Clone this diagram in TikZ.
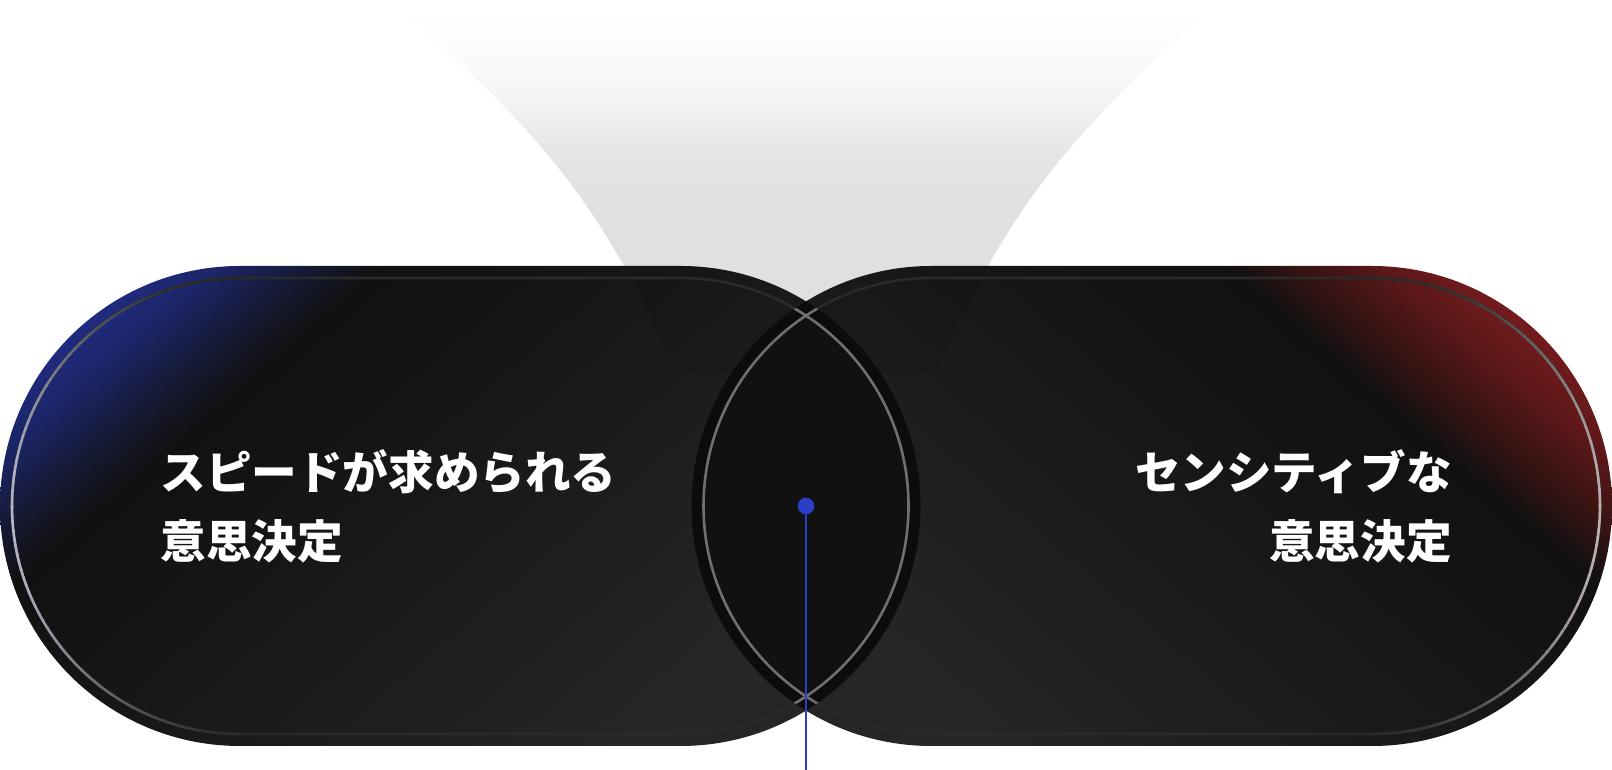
\documentclass[tikz,border=0pt]{standalone}
\usepackage{fontspec}
\newfontfamily\cjk{Noto Sans CJK JP}
\definecolor{bl0}{HTML}{23318F}
\definecolor{bl1}{HTML}{202C82}
\definecolor{bl2}{HTML}{1B2566}
\definecolor{bl3}{HTML}{15182E}
\definecolor{rd0}{HTML}{801E20}
\definecolor{rd1}{HTML}{761C1E}
\definecolor{rd2}{HTML}{5E1819}
\definecolor{rd3}{HTML}{341313}
\definecolor{c11}{HTML}{111111}
\definecolor{c16}{HTML}{161616}
\definecolor{c27}{HTML}{272727}
\definecolor{c22}{HTML}{222222}
\definecolor{fn1}{HTML}{FEFEFE}
\definecolor{fn2}{HTML}{F9F9F9}
\definecolor{fn3}{HTML}{F1F1F1}
\definecolor{fn4}{HTML}{E8E8E8}
\definecolor{fn5}{HTML}{E3E3E3}
\definecolor{fn6}{HTML}{E0E0E0}
\definecolor{fn7}{HTML}{DFDFDF}
\definecolor{dimline}{HTML}{2A2A2A}
\definecolor{hiL}{HTML}{B4B6C6}
\definecolor{hiR}{HTML}{BCB2B2}
\definecolor{lensband}{HTML}{0C0C0C}
\definecolor{lensfill}{HTML}{111111}
\definecolor{lensline}{HTML}{707070}
\definecolor{dotblue}{HTML}{2A3EC8}
\pgfdeclarehorizontalshading{leftgrad}{100bp}{color(0bp)=(bl0); color(30.5bp)=(bl0); color(33.8bp)=(bl1); color(36bp)=(bl2); color(38.6bp)=(bl3); color(40.4bp)=(c11); color(46.5bp)=(c16); color(63.2bp)=(c27); color(70.3bp)=(c22); color(100bp)=(c22)}
\pgfdeclarehorizontalshading{rightgrad}{100bp}{color(0bp)=(rd0); color(30.5bp)=(rd0); color(33.8bp)=(rd1); color(36bp)=(rd2); color(38.6bp)=(rd3); color(40.4bp)=(c11); color(46.5bp)=(c16); color(63.2bp)=(c27); color(70.3bp)=(c22); color(100bp)=(c22)}
\pgfdeclareverticalshading{funnelgrad}{100bp}{color(0bp)=(fn7); color(25bp)=(fn7); color(43.9bp)=(fn6); color(52bp)=(fn5); color(56.1bp)=(fn4); color(60.1bp)=(fn3); color(65.5bp)=(fn2); color(70.9bp)=(fn1); color(75bp)=(white); color(100bp)=(white)}
\def\LeftOuter{(240,24) -- (680.5,24) arc[start angle=-90,end angle=90,radius=240] -- (240,504) arc[start angle=90,end angle=270,radius=240] -- cycle}
\def\LeftInner{(240,36) -- (680.5,36) arc[start angle=-90,end angle=90,radius=228] -- (240,492) arc[start angle=90,end angle=270,radius=228] -- cycle}
\def\RightOuter{(931.5,24) -- (1372,24) arc[start angle=-90,end angle=90,radius=240] -- (931.5,504) arc[start angle=90,end angle=270,radius=240] -- cycle}
\def\RightInner{(931.5,36) -- (1372,36) arc[start angle=-90,end angle=90,radius=228] -- (931.5,492) arc[start angle=90,end angle=270,radius=228] -- cycle}
\def\Funnel{(388,770) .. controls (556,630) and (614,540) .. (673,402) .. controls (674,399) and (676,398) .. (680,398) -- (932,398) .. controls (936,398) and (938,399) .. (939,402) .. controls (998,540) and (1056,630) .. (1224,770) -- cycle}
\tikzset{
  innerline/.style={line width=1.3pt},
  txt/.style={inner sep=0pt, text=white, font=\cjk\bfseries\fontsize{22.8pt}{22.8pt}\selectfont},
  blueline/.style={draw=dotblue, line width=1pt},
  bluedot/.style={circle, fill=dotblue, inner sep=0pt, minimum size=8.2pt}
}
\begin{document}
\begin{tikzpicture}[x=0.5pt,y=0.5pt]
\useasboundingbox (0,0) rectangle (1612,770);
\fill[white] (0,0) rectangle (1612,770);
% light funnel
\shade[shading=funnelgrad] \Funnel;
% left pill
\begin{scope}
  \clip \LeftOuter;
  \begin{scope}[transform canvas={rotate around={-49.5:(460,264)}}]
    \shade[shading=leftgrad] (-140,-336) rectangle (1060,864);
  \end{scope}
\end{scope}
% right pill
\begin{scope}
  \clip \RightOuter;
  \begin{scope}[transform canvas={rotate around={-130.5:(1152,264)}}]
    \shade[shading=rightgrad] (552,-336) rectangle (1752,864);
  \end{scope}
\end{scope}
% funnel seen through the pills
\begin{scope}
  \clip \LeftOuter;
  \fill[black, opacity=0.06] \Funnel;
\end{scope}
\begin{scope}
  \clip \RightOuter;
  \fill[black, opacity=0.06] \Funnel;
\end{scope}
% inner rims
\draw[innerline, draw=dimline] \LeftInner;
\draw[innerline, draw=dimline] \RightInner;
\foreach \a in {90,92,...,268} {
  \pgfmathtruncatemacro\b{100*(max(0,cos(\a+1-185)))^2}
  \draw[innerline, draw=hiL!\b!dimline] ([shift={(\a:228)}]240,264) arc[start angle=\a, delta angle=2.4, radius=228];
}
\foreach \a in {-90,-88,...,88} {
  \pgfmathtruncatemacro\b{100*(max(0,cos(\a+1+5)))^2}
  \draw[innerline, draw=hiR!\b!dimline] ([shift={(\a:228)}]1372,264) arc[start angle=\a, delta angle=2.4, radius=228];
}
% overlap lens
\begin{scope}
  \clip \LeftOuter;
  \fill[lensband] \RightOuter;
\end{scope}
\begin{scope}
  \clip \LeftInner;
  \fill[lensfill] \RightInner;
\end{scope}
\begin{scope}
  \clip \LeftOuter;
  \draw[innerline, draw=lensline] \RightInner;
\end{scope}
\begin{scope}
  \clip \RightOuter;
  \draw[innerline, draw=lensline] \LeftInner;
\end{scope}
% texts
\node[txt, anchor=base west] (l1) at (160,280) {スピードが求められる};
\node[txt, anchor=base west] (l2) at (160,211.5) {意思決定};
\node[txt, anchor=base east] (r1) at (1452,280) {センシティブな};
\node[txt, anchor=base east] (r2) at (1452,211.5) {意思決定};
% center marker
\coordinate (bot) at (806,0);
\node[bluedot] (dot) at (806,264) {};
\draw[blueline] (dot.center) -- (bot);
\node[bluedot] at (dot.center) {};
\end{tikzpicture}
\end{document}
